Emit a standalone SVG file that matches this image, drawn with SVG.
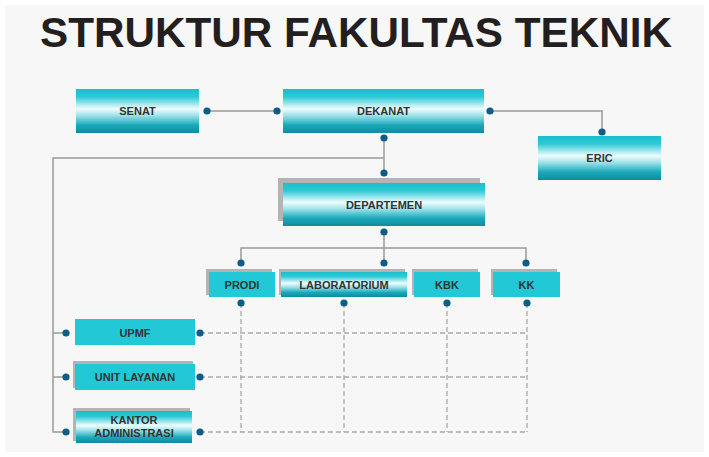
<svg xmlns="http://www.w3.org/2000/svg" width="709" height="457" viewBox="0 0 709 457">
<defs>
<linearGradient id="g" x1="0" y1="0" x2="0" y2="1">
<stop offset="0" stop-color="#16bfcc"/>
<stop offset="0.18" stop-color="#30c9d5"/>
<stop offset="0.45" stop-color="#effdff"/>
<stop offset="0.6" stop-color="#9fe3ea"/>
<stop offset="0.82" stop-color="#1aa9b9"/>
<stop offset="1" stop-color="#0d8c9e"/>
</linearGradient>
<style>
.gb{fill:url(#g);}
.fb{fill:#22c8d5;}
.sh{fill:#b4b4b4;}
.t{font-family:"Liberation Sans",Arial,sans-serif;font-weight:bold;font-size:11px;fill:#333;text-anchor:middle;}
.ln{stroke:#9a9a9a;stroke-width:1.5;fill:none;}
.dl{stroke:#aaaaaa;stroke-width:1.3;fill:none;stroke-dasharray:5,3;}
.d{fill:#0e5d87;}
</style>
</defs>
<rect x="0" y="0" width="709" height="457" fill="#ffffff"/>
<rect x="5" y="5" width="699" height="447" fill="#f7f7f7"/>
<text x="356" y="47" font-family="'Liberation Sans',Arial,sans-serif" font-weight="bold" font-size="42" fill="#231f20" text-anchor="middle" textLength="632" lengthAdjust="spacingAndGlyphs">STRUKTUR FAKULTAS TEKNIK</text>

<g id="connectors">
<path class="ln" d="M207,111 H277"/>
<path class="ln" d="M490,111 H602 V132"/>
<path class="ln" d="M384,138 V173"/>
<path class="ln" d="M384,158 H53 V432 H66"/>
<path class="ln" d="M53,333 H66 M53,377 H66"/>
<path class="ln" d="M384,232 V263"/>
<path class="ln" d="M241,263 V248 H526 V263"/>
<path class="dl" d="M200,333 H527 M200,377 H527 M200,432 H527"/>
<path class="dl" d="M241,303 V432 M344,303 V432 M447,303 V432 M527,303 V432"/>
<g class="d">
<circle cx="207" cy="111" r="3.6"/><circle cx="277" cy="111" r="3.6"/>
<circle cx="490" cy="111" r="3.6"/><circle cx="602" cy="132" r="3.6"/>
<circle cx="384" cy="138" r="3.6"/><circle cx="384" cy="173" r="3.6"/>
<circle cx="384" cy="232" r="3.6"/><circle cx="384" cy="263" r="3.6"/>
<circle cx="241" cy="263" r="3.6"/><circle cx="526" cy="263" r="3.6"/>
<circle cx="241" cy="303" r="3.6"/><circle cx="344" cy="303" r="3.6"/>
<circle cx="447" cy="303" r="3.6"/><circle cx="527" cy="303" r="3.6"/>
<circle cx="66" cy="333" r="3.6"/><circle cx="66" cy="377" r="3.6"/><circle cx="66" cy="432" r="3.6"/>
<circle cx="200" cy="333" r="3.6"/><circle cx="200" cy="377" r="3.6"/><circle cx="200" cy="432" r="3.6"/>
</g>
</g>

<g id="senat"><rect class="gb" x="76" y="89" width="123" height="44"/><text class="t" x="137.5" y="115">SENAT</text></g>
<g id="dekanat"><rect class="gb" x="283" y="89" width="201" height="44"/><text class="t" x="383.5" y="115">DEKANAT</text></g>
<g id="eric"><rect class="gb" x="538" y="136" width="123" height="44"/><text class="t" x="599.5" y="162">ERIC</text></g>
<g id="departemen"><rect class="sh" x="278" y="178" width="202" height="43"/><rect class="gb" x="283" y="183" width="202" height="43"/><text class="t" x="384" y="209">DEPARTEMEN</text></g>
<g id="prodi"><rect class="sh" x="206" y="269" width="66" height="26"/><rect class="fb" x="209" y="272" width="66" height="25"/><text class="t" x="242" y="288.5">PRODI</text></g>
<g id="laboratorium"><rect class="sh" x="279" y="269" width="126" height="26"/><rect class="gb" x="281" y="272" width="126" height="25"/><text class="t" x="344" y="288.5">LABORATORIUM</text></g>
<g id="kbk"><rect class="sh" x="412" y="269" width="66" height="26"/><rect class="fb" x="414" y="272" width="66" height="25"/><text class="t" x="447" y="288.5">KBK</text></g>
<g id="kk"><rect class="sh" x="491" y="269" width="66" height="26"/><rect class="fb" x="493" y="272" width="67" height="25"/><text class="t" x="526.5" y="288.5">KK</text></g>
<g id="upmf"><rect class="fb" x="75" y="319" width="120" height="26"/><text class="t" x="135" y="336.5">UPMF</text></g>
<g id="unit-layanan"><rect class="sh" x="73" y="361" width="120" height="27"/><rect class="fb" x="75" y="364" width="120" height="26"/><text class="t" x="135" y="381">UNIT LAYANAN</text></g>
<g id="kantor-administrasi"><rect class="sh" x="73" y="408" width="117" height="33"/><rect class="gb" x="76" y="411" width="116" height="32"/><text class="t" x="134" y="424">KANTOR</text><text class="t" x="134" y="437">ADMINISTRASI</text></g>
</svg>
